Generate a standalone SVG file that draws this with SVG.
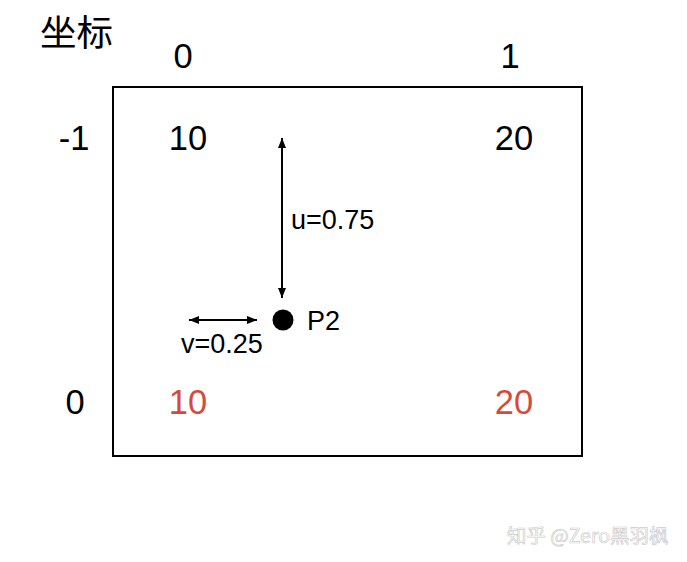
<svg xmlns="http://www.w3.org/2000/svg" width="687" height="562" viewBox="0 0 687 562">
<style>
text{font-family:"Liberation Sans","Noto Sans CJK SC",Arial,sans-serif;fill:#000}
.big{font-size:34.5px;text-anchor:middle}
.red{fill:#d34b3b}
.sm{font-size:27px}
.wm{font-size:19.5px;fill:#fff;stroke:#cdcdcd;stroke-width:0.7px}
</style>
<defs>
<marker id="ah" viewBox="0 0 10 10" refX="10" refY="5" markerWidth="10" markerHeight="10" markerUnits="userSpaceOnUse" orient="auto-start-reverse">
<path d="M0,1 L10,5 L0,9 z" fill="#000"/>
</marker>
</defs>
<rect width="687" height="562" fill="#fff"/>
<g id="title"><text x="40" y="46" style="font-size:36.5px;font-family:'Noto Sans CJK SC',sans-serif">坐标</text></g>
<g id="grid"><rect x="113" y="87" width="469" height="369" fill="none" stroke="#000" stroke-width="2"/></g>
<g id="col0"><text class="big" x="183" y="68">0</text></g>
<g id="col1"><text class="big" x="510" y="68">1</text></g>
<g id="rowm1"><text class="big" x="74" y="150">-1</text></g>
<g id="row0"><text class="big" x="75" y="414">0</text></g>
<g id="tl"><text class="big" x="188" y="150">10</text></g>
<g id="tr"><text class="big" x="514" y="150">20</text></g>
<g id="bl"><text class="big red" x="188" y="414">10</text></g>
<g id="br"><text class="big red" x="514" y="414">20</text></g>
<g id="p2"><circle cx="283" cy="320" r="10.5" fill="#000"/><text class="sm" x="307" y="330">P2</text></g>
<g id="connectors" stroke="#000" stroke-width="2" fill="none">
<line x1="282" y1="138" x2="282" y2="298" marker-start="url(#ah)" marker-end="url(#ah)"/>
<line x1="189" y1="320" x2="257" y2="320" marker-start="url(#ah)" marker-end="url(#ah)"/>
</g>
<g id="labels">
<text class="sm" x="291" y="229">u=0.75</text>
<text class="sm" x="181" y="353">v=0.25</text>
</g>
<g id="watermark"><text class="wm" x="507" y="543" style="font-family:'Noto Sans CJK SC',sans-serif">知乎 @Zero黑羽枫</text></g>
</svg>
